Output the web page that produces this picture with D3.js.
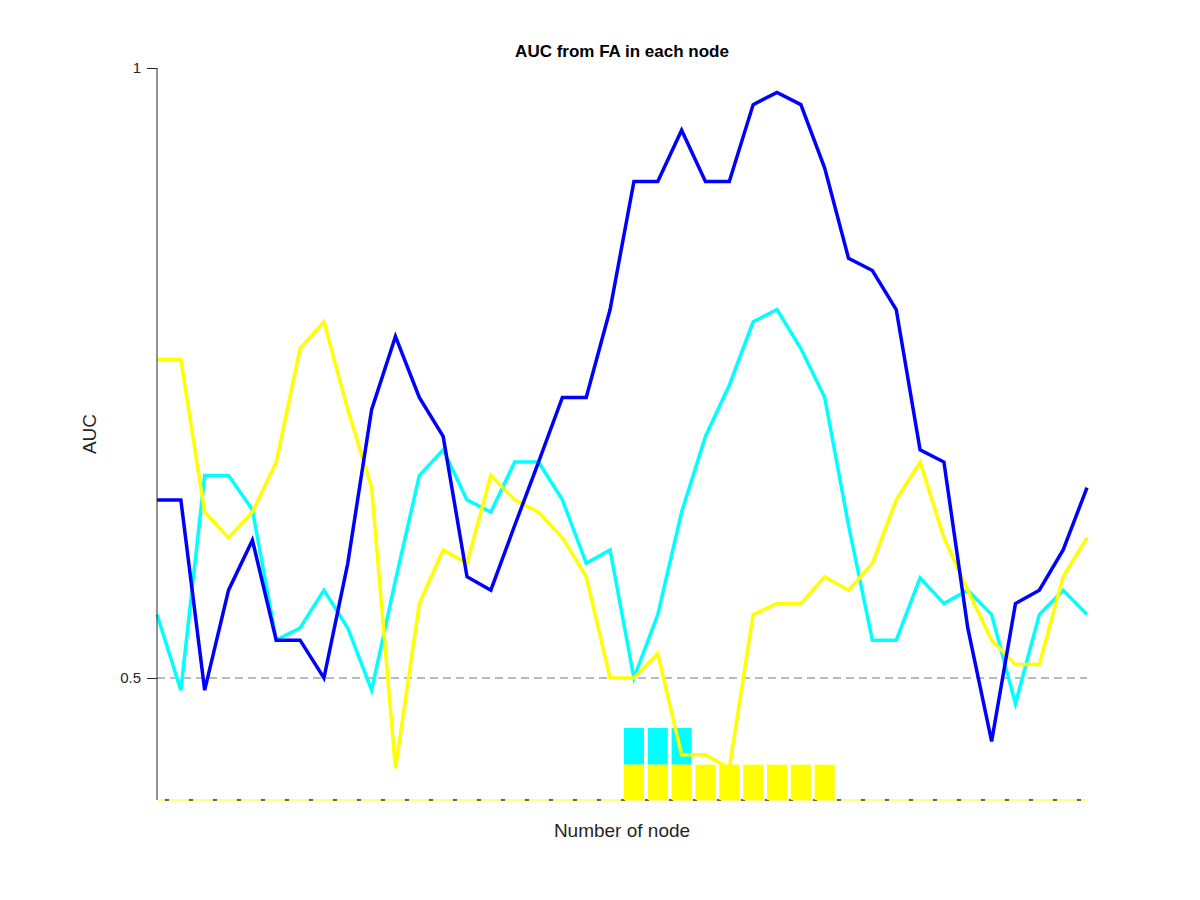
<!DOCTYPE html>
<html><head><meta charset="utf-8">
<script src="https://cdn.jsdelivr.net/npm/d3@7"></script>
<style>body{margin:0;background:#fff}text{font-family:"Liberation Sans",Arial,sans-serif}</style>
</head><body><svg id="c" width="1200" height="900"></svg>
<script>
const nodes = d3.range(1, 41);
const blue = [0.646,0.646,0.490,0.572,0.613,0.531,0.531,0.500,0.594,0.720,0.780,0.730,0.698,0.583,0.572,0.625,0.677,0.730,0.730,0.802,0.907,0.907,0.949,0.907,0.907,0.970,0.980,0.970,0.918,0.844,0.834,0.802,0.687,0.677,0.541,0.448,0.561,0.572,0.605,0.656];
const cyan = [0.552,0.490,0.666,0.666,0.638,0.531,0.541,0.572,0.541,0.490,0.580,0.666,0.687,0.646,0.636,0.677,0.677,0.646,0.594,0.605,0.500,0.552,0.636,0.698,0.740,0.792,0.802,0.770,0.730,0.625,0.531,0.531,0.582,0.561,0.572,0.552,0.479,0.552,0.572,0.552];
const yellow = [0.761,0.761,0.636,0.615,0.636,0.677,0.770,0.792,0.720,0.656,0.426,0.561,0.605,0.594,0.666,0.646,0.636,0.615,0.583,0.500,0.500,0.520,0.437,0.437,0.426,0.552,0.561,0.561,0.583,0.572,0.594,0.646,0.677,0.615,0.572,0.531,0.511,0.511,0.583,0.615];
const cyanSig = [21,22,23];
const yellowSig = [21,22,23,24,25,26,27,28,29];
const yTicks = [0.5, 1];

const svg = d3.select("#c");
const x = d3.scaleLinear().domain([1,40]).range([157,1087]);
const y = d3.scaleLinear().domain([0.4,1]).range([800,68]);
const step = x(2)-x(1);

// reference lines
svg.append("line").attr("x1",157).attr("x2",1087).attr("y1",y(0.5)).attr("y2",y(0.5))
  .attr("stroke","#777").attr("stroke-dasharray","8,5");
svg.append("line").attr("x1",157).attr("x2",1087).attr("y1",y(0.4)).attr("y2",y(0.4))
  .attr("stroke","#ffff00").attr("stroke-width",1);
svg.append("line").attr("x1",157).attr("x2",1087).attr("y1",y(0.4)).attr("y2",y(0.4))
  .attr("stroke","#333").attr("stroke-width",1.5).attr("stroke-dasharray","4,20").attr("stroke-dashoffset",-8);

// significance cells
svg.selectAll(".cs").data(cyanSig).join("rect")
  .attr("x",d=>x(d)-step*0.42).attr("width",step*0.84)
  .attr("y",y(0.459)).attr("height",y(0.429)-y(0.459)).attr("fill","#00ffff");
svg.selectAll(".ys").data(yellowSig).join("rect")
  .attr("x",d=>x(d)-step*0.42).attr("width",step*0.84)
  .attr("y",y(0.429)).attr("height",y(0.4)-y(0.429)).attr("fill","#ffff00");

const line = d3.line().x((d,i)=>x(nodes[i])).y(d=>y(d));
[[cyan,"#00ffff"],[yellow,"#ffff00"],[blue,"#0000ff"]].forEach(([s,c])=>{
  svg.append("path").attr("d",line(s)).attr("fill","none").attr("stroke",c).attr("stroke-width",3.5).attr("stroke-linejoin","miter");
});

// y axis
const ya = svg.append("g").attr("transform","translate(157,0)")
  .call(d3.axisLeft(y).tickValues(yTicks).tickFormat(d3.format("")).tickSize(10).tickPadding(6));
ya.select(".domain").attr("d","M0,68V800").attr("stroke","#262626");
ya.selectAll(".tick line").attr("stroke","#262626");
ya.selectAll("text").attr("font-size",15).attr("fill","#262626");

svg.append("text").attr("x",622).attr("y",57).attr("text-anchor","middle")
  .attr("font-size",17).attr("font-weight","bold").attr("fill","#000").text("AUC from FA in each node");
svg.append("text").attr("x",622).attr("y",837).attr("text-anchor","middle")
  .attr("font-size",19).attr("fill","#262626").text("Number of node");
svg.append("text").attr("transform","translate(96,434) rotate(-90)").attr("text-anchor","middle")
  .attr("font-size",19).attr("fill","#262626").text("AUC");
</script></body></html>
